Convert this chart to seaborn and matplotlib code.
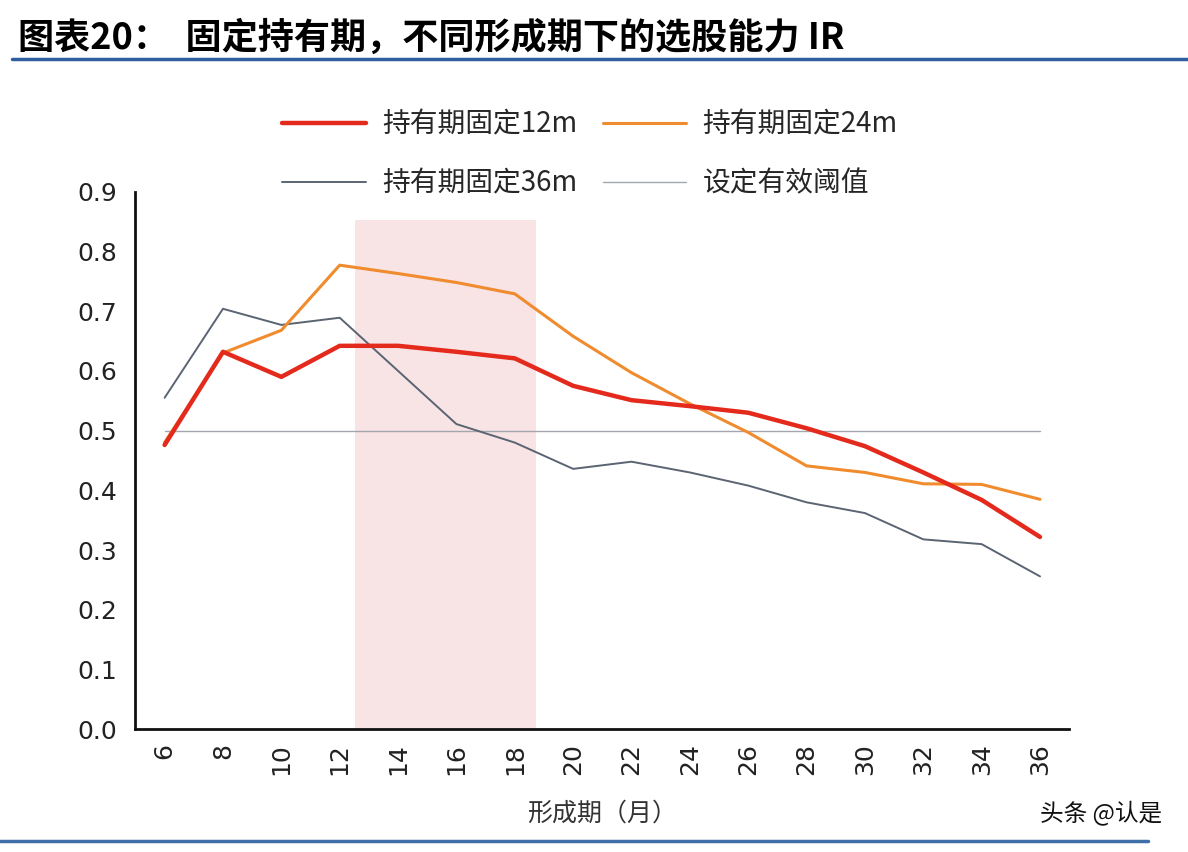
import numpy as np
import pandas as pd
import matplotlib
matplotlib.use("Agg")
import matplotlib.pyplot as plt
import seaborn as sns

# data
months = [6, 8, 10, 12, 14, 16, 18, 20, 22, 24, 26, 28, 30, 32, 34, 36]
ir_12m = [0.476, 0.632, 0.590, 0.642, 0.642, 0.632, 0.621, 0.575, 0.551, 0.541,
          0.530, 0.504, 0.474, 0.430, 0.384, 0.322]
ir_24m = [0.480, 0.630, 0.668, 0.777, 0.763, 0.748, 0.729, 0.658, 0.597, 0.545,
          0.497, 0.441, 0.430, 0.411, 0.410, 0.385]
ir_36m = [0.555, 0.704, 0.677, 0.689, 0.600, 0.511, 0.480, 0.436, 0.448, 0.430,
          0.408, 0.380, 0.362, 0.318, 0.310, 0.256]
threshold = [0.5] * len(months)
series_names = ["持有期固定12m", "持有期固定24m", "持有期固定36m", "设定有效阈值"]
shade_span = (3.26, 6.36)   # highlighted range, in category index units

sns.set_style("white")
plt.rcParams["font.family"] = ["Noto Sans CJK SC", "DejaVu Sans"]

idx = np.arange(len(months))
df = pd.DataFrame({"idx": idx, series_names[0]: ir_12m, series_names[1]: ir_24m,
                   series_names[2]: ir_36m, series_names[3]: threshold})
long = df.melt(id_vars="idx", var_name="series", value_name="IR")

fig = plt.figure(figsize=(11.88, 8.52), dpi=100)
ax = fig.add_axes([0.114, 0.144, 0.786, 0.631])

ax.axvspan(shade_span[0], shade_span[1], ymin=0, ymax=0.853 / 0.9,
           color="#F7DFE1", alpha=0.85, lw=0, zorder=0)

palette = {series_names[0]: "#E42A1C", series_names[1]: "#F08B2E",
           series_names[2]: "#5B6472", series_names[3]: "#A3A7AD"}
widths = {series_names[0]: 3.2, series_names[1]: 2.2,
          series_names[2]: 1.4, series_names[3]: 1.0}
for name in [series_names[3], series_names[2], series_names[1], series_names[0]]:
    sub = long[long["series"] == name]
    sns.lineplot(data=sub, x="idx", y="IR", color=palette[name], lw=widths[name],
                 label=name, ax=ax, zorder=3)

ax.set_xlim(-0.5, len(months) - 0.5)
ax.set_ylim(0, 0.9)
ax.set_yticks(np.arange(0, 0.91, 0.1))
ax.set_yticklabels([f"{v:.1f}" for v in np.arange(0, 0.91, 0.1)], fontsize=18,
                   family="DejaVu Sans", color="#222222")
ax.set_xticks(idx)
ax.set_xticklabels([str(m) for m in months], rotation=90, fontsize=18,
                   family="DejaVu Sans", color="#222222")
ax.set_xticks(np.arange(-0.5, len(months), 1.0), minor=True)
ax.tick_params(axis="x", which="major", length=0, pad=10)
ax.tick_params(axis="x", which="minor", length=7, width=2, direction="out", color="#111111")
ax.tick_params(axis="y", length=7, width=2, direction="out", color="#111111", pad=6)
for s in ["top", "right"]:
    ax.spines[s].set_visible(False)
for s in ["left", "bottom"]:
    ax.spines[s].set_color("#111111")
    ax.spines[s].set_linewidth(2)
ax.set_xlabel("形成期（月）", fontsize=18, color="#333333", labelpad=18)
ax.set_ylabel("")

# legend: row 1 = 12m, 24m ; row 2 = 36m, threshold (column-wise fill)
handles, labels = ax.get_legend_handles_labels()
order = [labels.index(n) for n in [series_names[0], series_names[2],
                                   series_names[1], series_names[3]]]
ax.legend([handles[i] for i in order], [labels[i] for i in order],
          ncol=2, frameon=False, fontsize=20, handlelength=3.0,
          columnspacing=0.9, handletextpad=0.6, labelspacing=1.05,
          loc="center", bbox_to_anchor=(0.487, 1.07))

fig.text(0.015, 0.955, "图表20：  固定持有期，不同形成期下的选股能力 IR",
         fontsize=26, fontweight="bold", color="#000000", va="center")
fig.add_artist(plt.Line2D([0.01, 1.0], [0.931, 0.931], color="#2E5E9E", lw=2.5))
fig.add_artist(plt.Line2D([0.0, 0.966], [0.013, 0.013], color="#3E6FA8", lw=2.5))
fig.text(0.978, 0.045, "头条 @认是", fontsize=17, color="#111111", ha="right", va="center")

fig.savefig("out.png", dpi=100)
